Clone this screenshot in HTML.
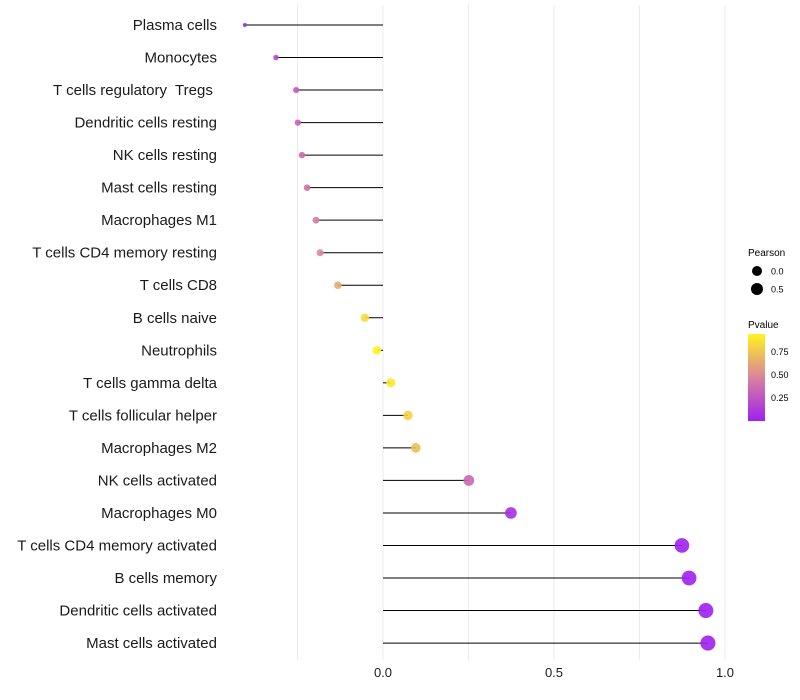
<!DOCTYPE html>
<html><head><meta charset="utf-8"><style>
body{margin:0;background:#fff;font-family:"Liberation Sans",sans-serif}
svg{display:block}
text{white-space:pre}
</style></head><body>
<svg id="chart" width="800" height="700">
<defs><linearGradient id="pg" x1="0" y1="1" x2="0" y2="0">
<stop offset="0" stop-color="#A020F0"/><stop offset="0.5" stop-color="#D9839C"/><stop offset="1" stop-color="#FFF41E"/>
</linearGradient></defs>
<g id="grid"></g><g id="marks"></g><g id="ylabels"></g><g id="xlabels"></g>
<g font-size="9">
<text x="748" y="256" font-size="10">Pearson</text>
<circle cx="757" cy="271" r="5" fill="#000"/>
<text x="771" y="274.5">0.0</text>
<circle cx="757" cy="289" r="6" fill="#000"/>
<text x="771" y="292.5">0.5</text>
<text x="748" y="328" font-size="10">Pvalue</text>
<rect x="748" y="334" width="17" height="87" fill="url(#pg)"/>
<text x="771" y="355">0.75</text>
<text x="771" y="378">0.50</text>
<text x="771" y="401">0.25</text>
</g>
</svg>
<script>
const categories=["Plasma cells","Monocytes","T cells regulatory  Tregs ","Dendritic cells resting","NK cells resting","Mast cells resting","Macrophages M1","T cells CD4 memory resting","T cells CD8","B cells naive","Neutrophils","T cells gamma delta","T cells follicular helper","Macrophages M2","NK cells activated","Macrophages M0","T cells CD4 memory activated","B cells memory","Dendritic cells activated","Mast cells activated"];
const pearson=[-0.404,-0.313,-0.254,-0.249,-0.237,-0.222,-0.196,-0.184,-0.132,-0.053,-0.018,0.023,0.073,0.096,0.251,0.374,0.874,0.895,0.944,0.950];
const pvalue=[0.05,0.2,0.3,0.33,0.36,0.4,0.45,0.5,0.65,0.85,0.95,0.9,0.8,0.72,0.35,0.08,0.01,0.01,0.01,0.01];
const xTicks=[0,0.5,1.0];
const xTickLabels=["0.0","0.5","1.0"];
const gridVals=[-0.25,0,0.25,0.5,0.75,1.0];

const NS="http://www.w3.org/2000/svg";
const x=v=>383+v*342;
const y=i=>25+i*32.53;
const r=v=>Math.sqrt(Math.max(1,4+(v+0.4)*39));
function lerp(a,b,t){return a.map((c,k)=>Math.round(c+(b[k]-c)*t));}
function col(p){const s=[[160,32,240],[217,131,156],[255,244,30]];
 const t=Math.max(0,Math.min(1,(p-0.01)/0.94));
 const c=t<0.5?lerp(s[0],s[1],t*2):lerp(s[1],s[2],(t-0.5)*2);return `rgb(${c})`;}
function mk(tag,at,parent){const e=document.createElementNS(NS,tag);for(const k in at)e.setAttribute(k,at[k]);document.getElementById(parent).appendChild(e);return e;}
gridVals.forEach((g,i)=>{
 const l=mk('line',{x1:x(g),x2:x(g),y1:5,y2:660,stroke:'#ebebeb','stroke-width':1},'grid');
 
 
});
categories.forEach((c,i)=>{
 const l=mk('line',{x1:x(0),x2:x(pearson[i]),y1:y(i),y2:y(i),stroke:'#000','stroke-width':1},'marks');
 
 
 const d=mk('circle',{cx:x(pearson[i]),cy:y(i),r:r(pearson[i]),fill:col(pvalue[i]),'fill-opacity':0.9},'marks');
 
 
 const t=mk('text',{x:217,y:y(i)+5,'text-anchor':'end','font-size':15,fill:'#1a1a1a'},'ylabels');
 t.textContent=c;
 
 
});
xTicks.forEach((v,i)=>{
 const t=mk('text',{x:x(v),y:677,'text-anchor':'middle','font-size':13,fill:'#1a1a1a'},'xlabels');
 t.textContent=xTickLabels[i];
 
 
});
</script>
</body></html>
